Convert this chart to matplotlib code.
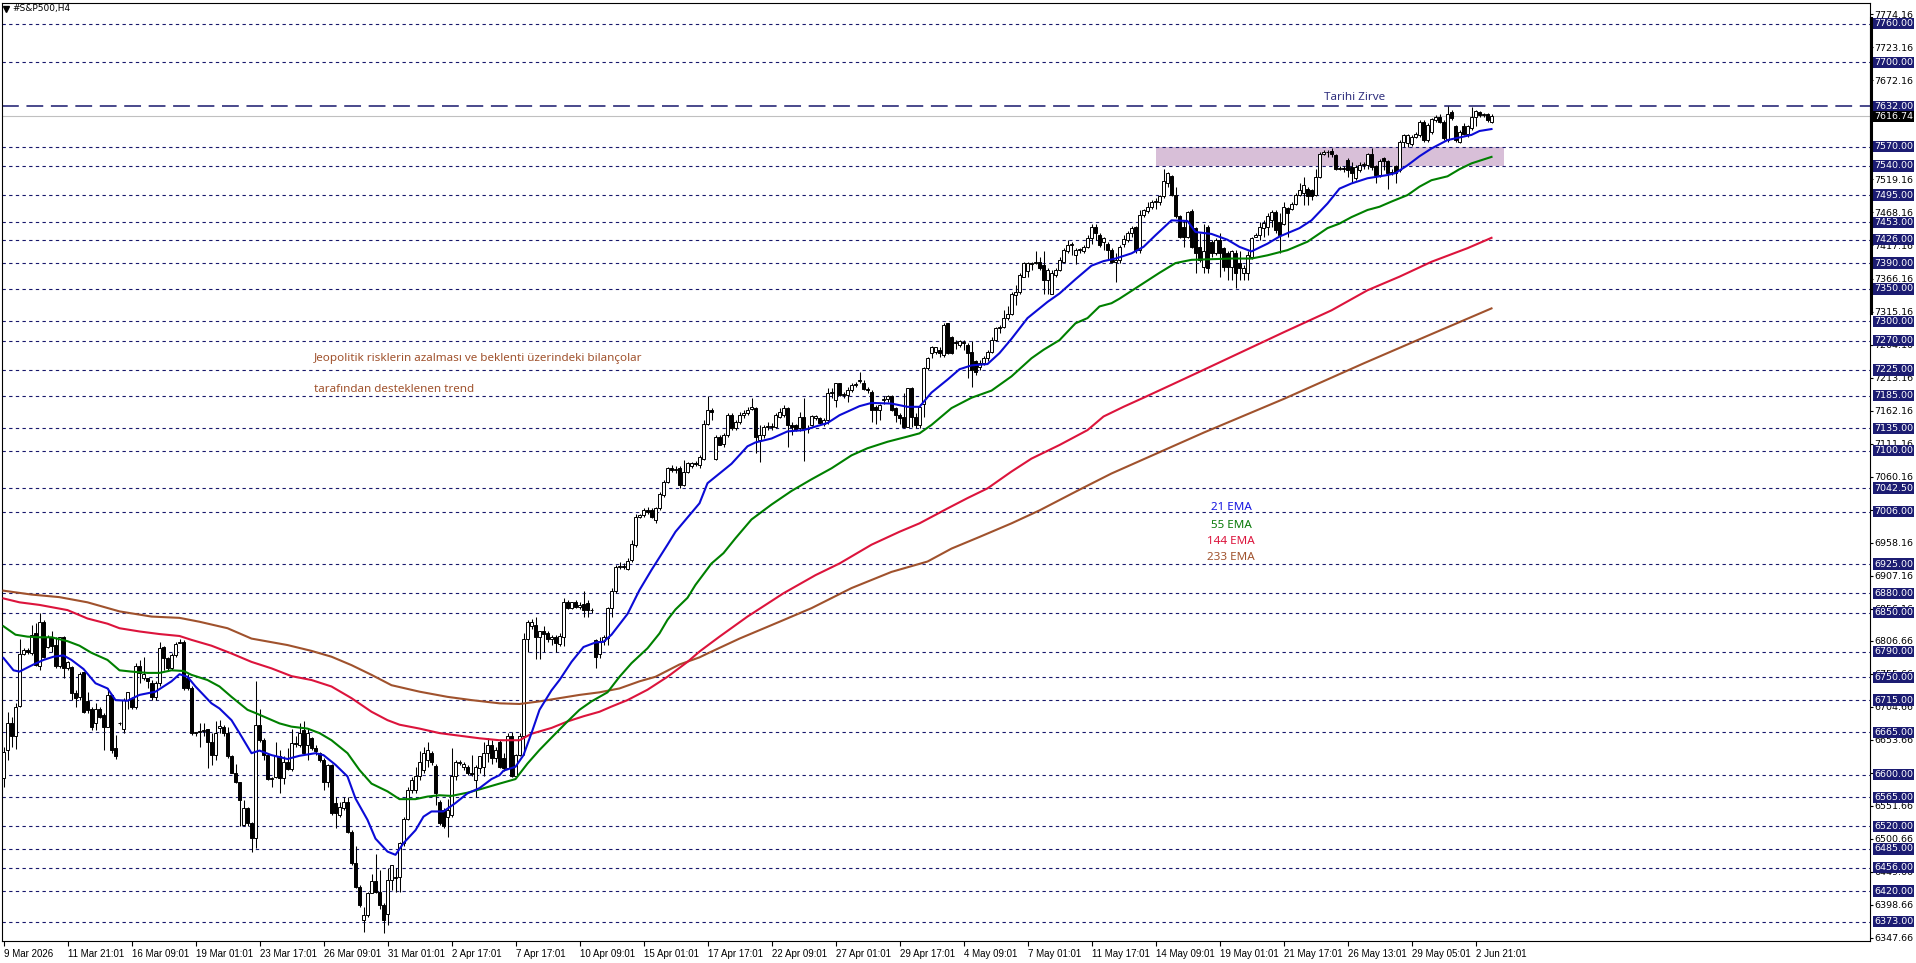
import numpy as np
import matplotlib
matplotlib.use("Agg")
import matplotlib.pyplot as plt
from matplotlib.lines import Line2D

# S&P500 H4 candles, one value per bar (bar 0 = 9 Mar 2026)
opens = [
    6594, 6638, 6680, 6659, 6706, 6786, 6792, 6787, 6818, 6767,
    6836, 6797, 6813, 6800, 6767, 6812, 6764, 6766, 6726, 6720,
    6758, 6713, 6701, 6679, 6701, 6692, 6674, 6723, 6641, 6679,
    6671, 6715, 6716, 6705, 6767, 6749, 6749, 6741, 6720, 6741,
    6797, 6780, 6764, 6785, 6803, 6805, 6749, 6733, 6664, 6666,
    6667, 6671, 6651, 6630, 6672, 6674, 6664, 6628, 6602, 6588,
    6522, 6548, 6525, 6502, 6677, 6653, 6630, 6593, 6596, 6628,
    6594, 6620, 6608, 6649, 6646, 6669, 6645, 6656, 6641, 6633,
    6623, 6588, 6615, 6556, 6538, 6548, 6558, 6512, 6463, 6427,
    6375, 6383, 6417, 6435, 6419, 6399, 6385, 6437, 6440, 6442,
    6494, 6532, 6576, 6576, 6597, 6607, 6623, 6633, 6613, 6558,
    6545, 6535, 6538, 6597, 6618, 6612, 6612, 6602, 6592, 6610,
    6612, 6633, 6646, 6625, 6651, 6625, 6610, 6659, 6597, 6630,
    6659, 6809, 6829, 6831, 6813, 6821, 6818, 6809, 6813, 6802,
    6813, 6867, 6857, 6866, 6859, 6864, 6865, 6854, 6808, 6786,
    6806, 6811, 6858, 6883, 6921, 6922, 6918, 6931, 6955, 6998,
    7001, 7009, 7009, 6993, 7011, 7032, 7052, 7073, 7070, 7073,
    7047, 7068, 7076, 7081, 7078, 7088, 7142, 7163, 7088, 7122,
    7111, 7125, 7155, 7135, 7145, 7155, 7158, 7165, 7166, 7117,
    7124, 7137, 7138, 7137, 7153, 7155, 7166, 7140, 7140, 7135,
    7153, 7133, 7140, 7150, 7150, 7142, 7148, 7189, 7179, 7204,
    7187, 7186, 7194, 7202, 7208, 7205, 7196, 7191, 7168, 7163,
    7179, 7180, 7184, 7166, 7155, 7153, 7137, 7197, 7153, 7140,
    7173, 7228, 7251, 7253, 7256, 7248, 7297, 7276, 7268, 7264,
    7268, 7263, 7252, 7238, 7230, 7235, 7243, 7253, 7271, 7289,
    7292, 7305, 7312, 7341, 7346, 7369, 7377, 7388, 7390, 7392,
    7387, 7364, 7343, 7372, 7379, 7392, 7408, 7418, 7402, 7410,
    7408, 7415, 7428, 7446, 7434, 7423, 7420, 7410, 7392, 7394,
    7420, 7426, 7437, 7445, 7410, 7464, 7470, 7477, 7485, 7485,
    7493, 7513, 7524, 7495, 7462, 7446, 7431, 7471, 7444, 7415,
    7384, 7446, 7423, 7405, 7426, 7413, 7405, 7384, 7405, 7390,
    7374, 7374, 7400, 7430, 7433, 7444, 7446, 7456, 7469, 7454,
    7451, 7475, 7474, 7482, 7495, 7498, 7505, 7503, 7495, 7523,
    7559, 7562, 7563, 7557, 7536, 7537, 7549, 7538, 7521, 7534,
    7541, 7541, 7558, 7540, 7526, 7553, 7547, 7529, 7540, 7534,
    7577, 7575, 7574, 7585, 7588, 7608, 7580, 7593, 7611, 7616,
    7608, 7580, 7624, 7601, 7577, 7601, 7590, 7598, 7616, 7624,
    7619, 7620, 7608,
]
highs = [
    6643, 6697, 6689, 6710, 6810, 6795, 6795, 6831, 6834, 6849,
    6839, 6815, 6821, 6813, 6813, 6814, 6776, 6767, 6731, 6758,
    6759, 6728, 6705, 6710, 6705, 6695, 6733, 6725, 6661, 6681,
    6718, 6728, 6720, 6772, 6777, 6782, 6749, 6746, 6744, 6805,
    6798, 6782, 6787, 6804, 6810, 6808, 6756, 6736, 6666, 6679,
    6679, 6671, 6664, 6682, 6684, 6676, 6674, 6630, 6617, 6589,
    6561, 6550, 6527, 6744, 6702, 6656, 6632, 6596, 6651, 6638,
    6628, 6641, 6671, 6659, 6679, 6682, 6671, 6658, 6645, 6635,
    6625, 6617, 6617, 6566, 6558, 6566, 6566, 6514, 6489, 6430,
    6396, 6419, 6447, 6478, 6453, 6401, 6455, 6460, 6455, 6496,
    6535, 6581, 6596, 6612, 6637, 6643, 6651, 6636, 6617, 6561,
    6548, 6563, 6641, 6622, 6622, 6620, 6615, 6630, 6615, 6628,
    6651, 6656, 6653, 6643, 6653, 6633, 6664, 6666, 6632, 6664,
    6818, 6839, 6840, 6844, 6822, 6829, 6822, 6815, 6816, 6818,
    6872, 6870, 6866, 6869, 6866, 6883, 6870, 6857, 6810, 6812,
    6815, 6859, 6888, 6924, 6929, 6926, 6934, 6962, 7003, 7003,
    7011, 7013, 7011, 7014, 7036, 7055, 7075, 7078, 7076, 7076,
    7086, 7083, 7083, 7085, 7094, 7147, 7184, 7166, 7124, 7124,
    7127, 7158, 7158, 7148, 7160, 7163, 7168, 7181, 7168, 7140,
    7140, 7145, 7143, 7158, 7166, 7171, 7168, 7145, 7142, 7160,
    7181, 7140, 7155, 7156, 7152, 7150, 7197, 7197, 7205, 7205,
    7191, 7199, 7205, 7207, 7222, 7209, 7199, 7194, 7171, 7173,
    7184, 7186, 7186, 7168, 7158, 7189, 7197, 7199, 7158, 7172,
    7230, 7245, 7262, 7261, 7261, 7297, 7298, 7278, 7271, 7271,
    7271, 7266, 7269, 7240, 7240, 7246, 7256, 7276, 7292, 7294,
    7318, 7323, 7346, 7356, 7374, 7392, 7392, 7392, 7408, 7400,
    7408, 7382, 7379, 7382, 7400, 7413, 7426, 7423, 7413, 7413,
    7418, 7433, 7451, 7451, 7436, 7431, 7423, 7413, 7405, 7418,
    7433, 7439, 7447, 7447, 7472, 7474, 7485, 7487, 7490, 7495,
    7536, 7531, 7526, 7508, 7464, 7456, 7470, 7474, 7446, 7436,
    7451, 7449, 7426, 7428, 7436, 7415, 7408, 7410, 7410, 7408,
    7387, 7408, 7431, 7436, 7454, 7456, 7467, 7472, 7472, 7467,
    7485, 7477, 7485, 7498, 7513, 7523, 7508, 7505, 7536, 7562,
    7565, 7565, 7567, 7559, 7540, 7540, 7552, 7546, 7541, 7546,
    7546, 7560, 7567, 7541, 7551, 7554, 7549, 7535, 7541, 7580,
    7590, 7590, 7588, 7593, 7611, 7611, 7606, 7614, 7619, 7621,
    7611, 7632, 7626, 7603, 7595, 7606, 7603, 7631, 7627, 7625,
    7622, 7622, 7620,
]
lows = [
    6581, 6623, 6643, 6640, 6705, 6785, 6786, 6785, 6767, 6762,
    6780, 6795, 6790, 6764, 6764, 6749, 6762, 6715, 6705, 6715,
    6695, 6695, 6669, 6669, 6687, 6638, 6674, 6633, 6624, 6677,
    6664, 6702, 6702, 6702, 6741, 6746, 6733, 6715, 6715, 6736,
    6762, 6762, 6762, 6782, 6803, 6731, 6731, 6661, 6660, 6643,
    6659, 6610, 6615, 6623, 6664, 6659, 6625, 6602, 6587, 6520,
    6520, 6520, 6481, 6486, 6651, 6623, 6591, 6581, 6594, 6571,
    6586, 6607, 6606, 6643, 6643, 6633, 6622, 6638, 6630, 6620,
    6576, 6581, 6538, 6517, 6535, 6545, 6509, 6460, 6424, 6396,
    6357, 6380, 6417, 6417, 6393, 6355, 6368, 6422, 6419, 6419,
    6489, 6530, 6571, 6571, 6592, 6602, 6612, 6615, 6553, 6522,
    6517, 6504, 6535, 6592, 6615, 6607, 6599, 6597, 6566, 6602,
    6597, 6620, 6617, 6620, 6610, 6606, 6608, 6596, 6594, 6628,
    6630, 6790, 6825, 6778, 6778, 6790, 6804, 6800, 6790, 6799,
    6798, 6856, 6855, 6857, 6856, 6844, 6844, 6850, 6764, 6780,
    6800, 6800, 6843, 6880, 6918, 6918, 6916, 6929, 6952, 6996,
    6998, 7003, 6996, 6988, 7009, 7029, 7050, 7068, 7066, 7042,
    7045, 7065, 7073, 7076, 7073, 7086, 7140, 7148, 7086, 7109,
    7106, 7122, 7132, 7132, 7142, 7150, 7155, 7163, 7096, 7083,
    7120, 7132, 7132, 7135, 7150, 7153, 7106, 7125, 7130, 7130,
    7085, 7128, 7138, 7148, 7140, 7138, 7142, 7181, 7168, 7184,
    7181, 7176, 7191, 7199, 7204, 7194, 7189, 7145, 7142, 7148,
    7173, 7176, 7161, 7145, 7142, 7135, 7137, 7137, 7135, 7135,
    7153, 7225, 7243, 7250, 7245, 7245, 7250, 7250, 7258, 7261,
    7256, 7212, 7198, 7217, 7225, 7232, 7238, 7251, 7269, 7282,
    7289, 7302, 7310, 7325, 7343, 7369, 7369, 7379, 7389, 7379,
    7343, 7343, 7342, 7369, 7377, 7390, 7405, 7402, 7389, 7405,
    7405, 7413, 7420, 7426, 7415, 7410, 7397, 7390, 7361, 7390,
    7415, 7423, 7431, 7405, 7405, 7461, 7467, 7474, 7474, 7480,
    7490, 7508, 7493, 7459, 7428, 7415, 7428, 7413, 7374, 7392,
    7374, 7374, 7400, 7402, 7369, 7377, 7364, 7364, 7351, 7364,
    7364, 7364, 7397, 7430, 7426, 7431, 7433, 7446, 7436, 7405,
    7449, 7431, 7472, 7480, 7493, 7480, 7480, 7487, 7493, 7521,
    7557, 7554, 7554, 7534, 7533, 7531, 7523, 7513, 7518, 7531,
    7536, 7536, 7534, 7513, 7523, 7534, 7505, 7526, 7513, 7531,
    7570, 7570, 7571, 7583, 7585, 7577, 7577, 7590, 7608, 7606,
    7580, 7577, 7611, 7577, 7575, 7588, 7585, 7595, 7601, 7616,
    7615, 7608, 7607,
]
closes = [
    6635, 6679, 6659, 6705, 6786, 6792, 6790, 6816, 6769, 6836,
    6782, 6813, 6798, 6767, 6812, 6764, 6774, 6726, 6718, 6756,
    6697, 6700, 6674, 6701, 6689, 6674, 6723, 6638, 6628, 6679,
    6715, 6727, 6705, 6767, 6757, 6756, 6744, 6720, 6741, 6795,
    6780, 6764, 6785, 6802, 6805, 6733, 6733, 6664, 6666, 6667,
    6669, 6651, 6630, 6664, 6675, 6664, 6628, 6602, 6588, 6560,
    6548, 6525, 6502, 6677, 6653, 6630, 6593, 6594, 6628, 6594,
    6620, 6608, 6649, 6647, 6664, 6633, 6664, 6641, 6636, 6623,
    6588, 6615, 6540, 6540, 6550, 6558, 6512, 6463, 6427, 6399,
    6383, 6417, 6435, 6419, 6399, 6375, 6437, 6460, 6442, 6494,
    6532, 6576, 6592, 6597, 6620, 6633, 6638, 6620, 6571, 6525,
    6520, 6545, 6597, 6620, 6618, 6617, 6602, 6601, 6612, 6628,
    6633, 6646, 6625, 6638, 6612, 6610, 6659, 6597, 6630, 6659,
    6809, 6835, 6835, 6812, 6821, 6817, 6809, 6813, 6803, 6814,
    6867, 6857, 6866, 6859, 6862, 6854, 6854, 6854, 6782, 6806,
    6813, 6858, 6884, 6921, 6922, 6921, 6930, 6956, 6998, 7001,
    7009, 7006, 6998, 7011, 7034, 7052, 7073, 7070, 7072, 7047,
    7068, 7081, 7081, 7080, 7091, 7142, 7163, 7160, 7122, 7109,
    7125, 7155, 7135, 7145, 7155, 7158, 7163, 7168, 7122, 7124,
    7137, 7138, 7137, 7155, 7160, 7166, 7140, 7137, 7132, 7153,
    7133, 7136, 7154, 7154, 7143, 7148, 7189, 7191, 7204, 7186,
    7188, 7194, 7202, 7203, 7210, 7195, 7194, 7163, 7163, 7171,
    7180, 7184, 7163, 7155, 7150, 7137, 7197, 7153, 7140, 7168,
    7228, 7243, 7261, 7260, 7251, 7294, 7251, 7251, 7266, 7269,
    7267, 7251, 7225, 7222, 7236, 7243, 7253, 7271, 7289, 7291,
    7305, 7312, 7343, 7346, 7372, 7390, 7390, 7390, 7392, 7382,
    7364, 7379, 7374, 7379, 7395, 7410, 7418, 7420, 7410, 7411,
    7415, 7428, 7446, 7436, 7418, 7428, 7410, 7392, 7395, 7415,
    7427, 7436, 7444, 7410, 7464, 7472, 7477, 7485, 7486, 7493,
    7516, 7529, 7495, 7462, 7431, 7431, 7469, 7415, 7405, 7395,
    7408, 7382, 7405, 7426, 7405, 7384, 7384, 7408, 7374, 7382,
    7382, 7402, 7428, 7433, 7446, 7452, 7462, 7469, 7441, 7433,
    7477, 7467, 7482, 7495, 7503, 7511, 7493, 7493, 7523, 7559,
    7562, 7561, 7559, 7536, 7537, 7536, 7534, 7529, 7538, 7541,
    7543, 7558, 7538, 7526, 7547, 7547, 7529, 7531, 7529, 7577,
    7588, 7588, 7585, 7590, 7608, 7580, 7603, 7612, 7616, 7608,
    7583, 7621, 7614, 7580, 7593, 7590, 7601, 7616, 7625, 7619,
    7620, 7611, 7616.74,
]

# moving averages (bar index, value)
ema21_x = [0, 2.5, 4, 7.5, 10, 12.5, 15, 17, 20, 23, 26, 28, 31, 34, 38, 42, 44, 46, 48, 52,
           54, 57, 59, 62, 64, 67, 71, 74, 78, 80, 83, 86, 88, 91, 93, 96, 98, 100, 103, 105,
           107, 110, 113, 116, 119, 122, 124, 125, 128, 130, 132, 134, 137, 139, 142, 145, 148, 150, 152, 156,
           159, 162, 166, 168, 171, 174, 176, 179, 182, 186, 188, 192, 196, 200, 206, 209, 214, 217, 222, 226,
           229, 232, 236, 239, 242, 246, 249, 252, 256, 261, 264, 268, 272, 275, 278, 282, 285, 288, 292, 296,
           298, 302, 306, 309, 312, 316, 319, 324, 327, 331, 334, 337, 341, 346, 348, 351, 354, 357, 361, 364,
           367, 369, 372]
ema21_y = [6780, 6761, 6759, 6770, 6777, 6782, 6784, 6777, 6763, 6741, 6733, 6715, 6714, 6723, 6728, 6744, 6755, 6751, 6736, 6710,
           6702, 6684, 6664, 6633, 6637, 6630, 6624, 6629, 6633, 6630, 6615, 6597, 6563, 6530, 6501, 6481, 6476, 6494, 6514, 6535,
           6543, 6543, 6556, 6571, 6579, 6593, 6599, 6606, 6612, 6630, 6664, 6700, 6730, 6746, 6774, 6797, 6804, 6805, 6816, 6848,
           6885, 6916, 6955, 6975, 6997, 7019, 7050, 7065, 7080, 7107, 7113, 7119, 7130, 7132, 7143, 7155, 7169, 7174, 7173, 7168,
           7168, 7190, 7210, 7226, 7232, 7234, 7251, 7273, 7305, 7330, 7343, 7365, 7386, 7393, 7397, 7405, 7415, 7433, 7456, 7455,
           7438, 7435, 7426, 7415, 7408, 7420, 7431, 7444, 7456, 7482, 7505, 7513, 7521, 7526, 7529, 7541, 7555, 7567, 7580, 7584,
           7588, 7594, 7597]

ema55_x = [0, 3, 6, 9, 12, 16, 19, 22, 26, 29, 32, 36, 39, 42, 45, 47, 51, 54, 57, 61,
           63, 66, 69, 72, 76, 79, 82, 86, 89, 92, 96, 99, 103, 106, 109, 112, 116, 119, 124, 128,
           131, 134, 137, 141, 144, 147, 151, 154, 157, 161, 164, 166, 168, 171, 173, 177, 180, 183, 187, 192,
           197, 202, 207, 212, 216, 221, 226, 229, 232, 237, 242, 247, 252, 257, 260, 264, 268, 271, 274, 277,
           279, 284, 289, 293, 297, 302, 307, 312, 316, 321, 326, 331, 334, 337, 341, 344, 347, 351, 354, 357,
           361, 364, 367, 372]
ema55_y = [6829, 6816, 6813, 6812, 6812, 6806, 6799, 6788, 6777, 6761, 6759, 6757, 6757, 6761, 6760, 6754, 6746, 6736, 6720, 6700,
           6695, 6687, 6679, 6674, 6671, 6664, 6653, 6633, 6607, 6586, 6574, 6562, 6562, 6566, 6568, 6567, 6572, 6577, 6586, 6593,
           6617, 6638, 6657, 6682, 6700, 6713, 6727, 6751, 6772, 6795, 6818, 6839, 6855, 6873, 6893, 6926, 6942, 6965, 6994, 7017,
           7038, 7056, 7073, 7093, 7104, 7114, 7122, 7127, 7140, 7166, 7182, 7193, 7215, 7243, 7256, 7271, 7297, 7305, 7323, 7328,
           7335, 7355, 7375, 7390, 7395, 7396, 7397, 7397, 7402, 7410, 7423, 7444, 7451, 7461, 7472, 7477, 7485, 7495, 7508, 7518,
           7524, 7535, 7544, 7554]

ema144_x = [0, 4, 9, 16, 21, 26, 29, 34, 39, 44, 47, 52, 57, 62, 67, 72, 77, 82, 87, 92,
            96, 99, 104, 109, 114, 119, 124, 129, 132, 137, 141, 145, 149, 152, 156, 161, 166, 171, 174, 179,
            186, 195, 203, 209, 217, 224, 229, 236, 241, 246, 252, 257, 264, 271, 275, 280, 285, 292, 300, 310,
            320, 332, 341, 349, 357, 366, 372]
ema144_y = [6872, 6866, 6862, 6854, 6841, 6833, 6826, 6821, 6817, 6814, 6808, 6799, 6787, 6774, 6764, 6752, 6746, 6736, 6718, 6697,
            6684, 6677, 6671, 6664, 6660, 6656, 6653, 6653, 6663, 6672, 6682, 6690, 6697, 6705, 6715, 6731, 6751, 6774, 6790, 6813,
            6844, 6880, 6908, 6926, 6955, 6975, 6988, 7011, 7027, 7042, 7068, 7088, 7109, 7132, 7153, 7168, 7182, 7202, 7225, 7254,
            7283, 7317, 7348, 7369, 7392, 7413, 7429]

ema233_x = [0, 7, 14, 21, 29, 37, 44, 49, 56, 62, 71, 77, 82, 87, 92, 97, 104, 111, 117, 124,
            129, 134, 139, 144, 149, 154, 159, 163, 169, 174, 176, 184, 194, 202, 212, 222, 231, 237, 244, 252,
            259, 269, 277, 300, 320, 340, 355, 372]
ema233_y = [6884, 6878, 6874, 6866, 6852, 6844, 6842, 6836, 6826, 6810, 6800, 6791, 6782, 6769, 6754, 6738, 6728, 6720, 6715, 6710,
            6709, 6713, 6718, 6723, 6727, 6733, 6744, 6751, 6770, 6781, 6787, 6810, 6836, 6857, 6888, 6913, 6929, 6949, 6967, 6988,
            7008, 7040, 7065, 7128, 7180, 7235, 7275, 7320]

# horizontal levels drawn on the chart
levels = [7760, 7700, 7632, 7570, 7540, 7495, 7453, 7426, 7390, 7350, 7300, 7270, 7225, 7185,
          7135, 7100, 7042.5, 7006, 6925, 6880, 6850, 6790, 6750, 6715, 6665, 6600, 6565, 6520,
          6485, 6456, 6420, 6373]
record_high = 7632
bid = 7616.74

price_ticks = [7774.16, 7723.16, 7672.16, 7621.16, 7570.16, 7519.16, 7468.16, 7417.16, 7366.16,
               7315.16, 7264.16, 7213.16, 7162.16, 7111.16, 7060.16, 7009.16, 6958.16, 6907.16,
               6856.16, 6806.66, 6755.66, 6704.66, 6653.66, 6602.66, 6551.66, 6500.66, 6449.66,
               6398.66, 6347.66]
date_labels = ["9 Mar 2026", "11 Mar 21:01", "16 Mar 09:01", "19 Mar 01:01", "23 Mar 17:01",
               "26 Mar 09:01", "31 Mar 01:01", "2 Apr 17:01", "7 Apr 17:01", "10 Apr 09:01",
               "15 Apr 01:01", "17 Apr 17:01", "22 Apr 09:01", "27 Apr 01:01", "29 Apr 17:01",
               "4 May 09:01", "7 May 01:01", "11 May 17:01", "14 May 09:01", "19 May 01:01",
               "21 May 17:01", "26 May 13:01", "29 May 05:01", "2 Jun 21:01"]

opens, highs, lows, closes = map(np.array, (opens, highs, lows, closes))
highs = np.maximum.reduce([highs, opens, closes])
lows = np.minimum.reduce([lows, opens, closes])

W, H = 1916, 963
navy = "#18186c"

fig = plt.figure(figsize=(W / 100, H / 100), dpi=100)
ax = fig.add_axes([2 / W, 22 / H, 1868 / W, 938 / H])
ax.set_xlim(-0.375, 466.625)
ax.set_ylim(6342.9, 7791.7)

# support zone
ax.fill_between([288, 375], 7540, 7570, color="#d8bfd8", lw=0, zorder=0.5)

for lv in levels:
    if lv == record_high:
        ax.axhline(lv, color=navy, lw=1.1, ls=(0, (11, 5)), zorder=1)
    else:
        ax.axhline(lv, color=navy, lw=0.8, ls=(0, (3, 3)), zorder=1)
ax.axhline(bid, color="#c0c0c0", lw=0.8, zorder=1)

# candles
x = np.arange(len(closes))
up = closes >= opens
ax.vlines(x, lows, highs, color="black", lw=0.75, zorder=3)
lo = np.minimum(opens, closes)
hgt = np.maximum(np.abs(closes - opens), 0.8)
ax.bar(x[up], hgt[up], bottom=lo[up], width=0.6, color="white",
       edgecolor="black", linewidth=0.7, zorder=4)
ax.bar(x[~up], hgt[~up], bottom=lo[~up], width=0.6, color="black",
       edgecolor="black", linewidth=0.7, zorder=4)

ax.plot(ema233_x, ema233_y, color="#a0522d", lw=1.5, zorder=5)
ax.plot(ema144_x, ema144_y, color="#dc143c", lw=1.5, zorder=5)
ax.plot(ema55_x, ema55_y, color="#008000", lw=1.5, zorder=5)
ax.plot(ema21_x, ema21_y, color="#0b0bd6", lw=1.5, zorder=5)

# axes
ax.yaxis.tick_right()
ax.set_yticks(price_ticks)
ax.set_yticklabels([f"{v:.2f}" for v in price_ticks], fontsize=6.8)
ax.tick_params(axis="y", length=2, width=0.8, pad=1)
ax.set_xticks(np.arange(0, 16 * len(date_labels), 16))
ax.set_xticklabels(date_labels, fontsize=7.0, family="Liberation Sans", ha="left")
ax.tick_params(axis="x", length=3.5, width=0.8, pad=2)
for s in ax.spines.values():
    s.set_linewidth(0.8)

ytr = ax.get_yaxis_transform()
for lv in levels:
    ax.text(1.0021, lv, f"{lv:.2f}", transform=ytr, ha="left", va="center", fontsize=6.8,
            color="white", zorder=6, clip_on=False,
            bbox=dict(boxstyle="square,pad=0.12", fc="#1c1c72", ec="none"))
ax.text(1.0021, bid, f"{bid:.2f}", transform=ytr, ha="left", va="center", fontsize=6.8,
        color="white", zorder=7, clip_on=False,
        bbox=dict(boxstyle="square,pad=0.12", fc="black", ec="none"))

fig.add_artist(Line2D([1870.5 / W] * 2, [1 - 18 / H, 1 - 313 / H], color="black", lw=2.2))


def ftext(px, py, s, **kw):
    fig.text(px / W, 1 - py / H, s, **kw)


fig.add_artist(Line2D([6 / W], [1 - 9 / H], marker="v", color="black", markersize=4))
ftext(12, 9, "#S&P500,H4", fontsize=6.5, va="center")

note = dict(family="Noto Sans", fontsize=8.4, va="center")
ftext(314, 358, "Jeopolitik risklerin azalması ve beklenti üzerindeki bilançolar", color="#a0522d", **note)
ftext(314, 389, "tarafından desteklenen trend", color="#a0522d", **note)
ftext(1355, 97, "Tarihi Zirve", color="#30307e", ha="center", **note)
ftext(1231, 507, "21 EMA", color="#1515e0", ha="center", **note)
ftext(1231, 526, "55 EMA", color="#0a7a0a", ha="center", **note)
ftext(1231, 541, "144 EMA", color="#dc143c", ha="center", **note)
ftext(1231, 558, "233 EMA", color="#a0522d", ha="center", **note)

fig.savefig("out.png", dpi=100)
